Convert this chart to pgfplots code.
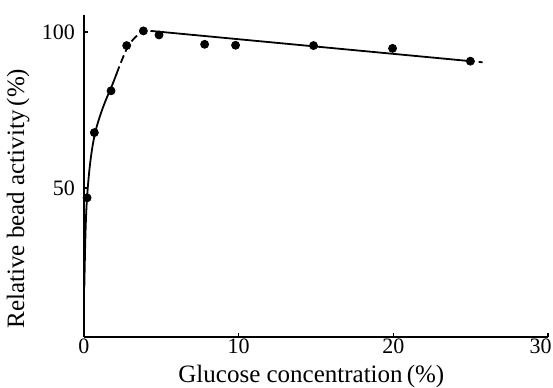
\documentclass[border=0pt]{standalone}
\usepackage{pgfplots}
\pgfplotsset{compat=1.18}
\usepackage{fontspec}
\setmainfont{Liberation Serif}
\begin{document}
\begin{tikzpicture}
\begin{axis}[
  scale only axis,
  width=232pt, height=161pt,
  xmin=0, xmax=30, ymin=2.2, ymax=105.4,
  axis lines=left,
  axis line style={-, line width=1pt},
  xtick={0,10,20},
  extra x ticks={30},
  extra x tick style={xticklabel style={anchor=north east, xshift=3pt}},
  ytick={50,100},
  tick align=inside,
  major tick length=2pt,
  tick style={line width=0.8pt, black},
  /pgf/number format/assume math mode=true,
  tick label style={font=\fontsize{11}{13}\selectfont},
  xticklabel style={yshift=0.5pt, inner sep=1pt},
  yticklabel style={xshift=-1pt},
  label style={font=\fontsize{12.5}{14}\selectfont},
  xlabel={Glucose concentration\,(\%)},
  ylabel={Relative bead activity\,(\%)},
  xlabel style={at={(axis description cs:0.49,0)}, anchor=center, yshift=-20pt, inner sep=0pt},
  ylabel style={at={(axis description cs:-0.142,0.43)}, anchor=center, rotate=0},
  clip=false,
]
\coordinate (bl) at (rel axis cs:0,0);
\coordinate (tr) at (rel axis cs:1,1);
% fitted curve (solid part)
\addplot[black, line width=0.9pt, smooth, tension=0.6] coordinates {
  (0.02,18) (0.1,36) (0.2,47) (0.4,58) (0.67,66.5) (1.0,72.5) (1.4,78) (1.75,82) (2.1,86.5)
};
% fitted curve (dashed part)
\addplot[black, line width=0.9pt, dash pattern=on 4pt off 2pt, smooth, tension=0.6] coordinates {
  (2.1,86.5) (2.76,94.5) (3.3,98.2) (3.84,100.3)
};
% straight line
\addplot[black, line width=0.9pt] coordinates {(4.3,100.3) (25,90.6)};
\addplot[black, line width=0.9pt, dash pattern=on 2pt off 2pt] coordinates {(25,90.6) (26,90.13)};
% data points
\addplot[only marks, mark=*, mark size=2pt, black] coordinates {
  (0.2,46.8) (0.67,67.7) (1.75,81.1) (2.76,95.6) (3.84,100.3) (4.85,99.0)
  (7.8,96.0) (9.8,95.7) (14.84,95.6) (19.95,94.7) (24.98,90.6)
};
\end{axis}
\pgfresetboundingbox
\path ([xshift=-42pt,yshift=-25.5pt]bl) rectangle ([xshift=2.5pt,yshift=7.5pt]tr);
\end{tikzpicture}
\end{document}
